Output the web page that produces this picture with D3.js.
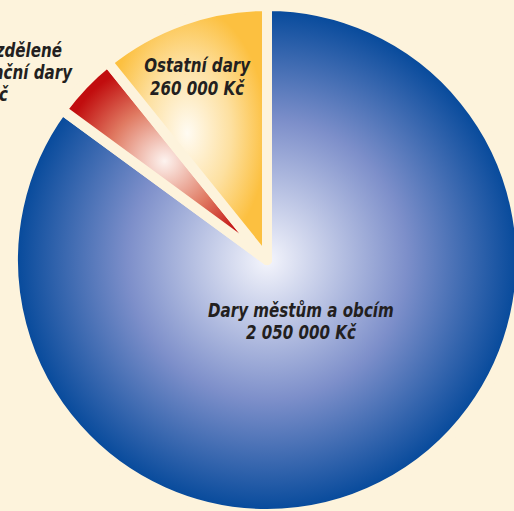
<!DOCTYPE html>
<html>
<head>
<meta charset="utf-8">
<script src="https://cdn.jsdelivr.net/npm/d3@7"></script>
<style>
  html, body { margin: 0; padding: 0; background: #fdf3dc; overflow: hidden; }
  svg { display: block; }
  .lbl { font-family: 'Liberation Sans Narrow', 'DejaVu Sans Condensed', 'DejaVu Sans', sans-serif;
         font-stretch: condensed; font-weight: bold; font-style: italic; font-size: 20px; fill: #231f20; }
</style>
</head>
<body>
<svg id="chart"></svg>
<script>
// Donations, CZK
const categories = ['Dary městům a obcím', 'Nerozdělené finanční dary', 'Ostatní dary']
const labelLines = [['Dary městům a obcím'], ['Nerozdělené', 'finanční dary'], ['Ostatní dary']]
const amounts = [2050000, 100000, 260000]
const amountLabels = ['2 050 000 Kč', '100 000 Kč', '260 000 Kč']

const svgWidth = 514
const svgHeight = 511
const cx = 267
const cy = 260
const radius = 254
const squeeze = 0.84 // narrow the font to look like a condensed face

const colors = [
  ['#f4f5fc', '#7d8fca', '#03489a'],
  ['#fdf3ef', '#e07a62', '#c10d0e'],
  ['#fffbf2', '#fde0a0', '#fcc040']
]

const svg = d3.select('#chart')
  .attr('width', svgWidth)
  .attr('height', svgHeight)

const defs = svg.append('defs')
colors.forEach((c, i) => {
  const g = defs.append('radialGradient').attr('id', 'grad' + i)
  g.append('stop').attr('offset', '0%').attr('stop-color', c[0])
  g.append('stop').attr('offset', '55%').attr('stop-color', c[1])
  g.append('stop').attr('offset', '100%').attr('stop-color', c[2])
})

const pie = d3.pie().sort(null).value(d => d)
const arcs = pie(amounts)

const arc = d3.arc().innerRadius(0).outerRadius(radius)

const g = svg.append('g').attr('transform', `translate(${cx}, ${cy})`)

g.selectAll('path')
  .data(arcs)
  .enter()
  .append('path')
  .attr('d', arc)
  .attr('fill', (d, i) => `url(#grad${i})`)
  .attr('stroke', '#fdf3dc')
  .attr('stroke-width', 10)
  .attr('stroke-linejoin', 'round')

// labels inside the two bigger slices
const labelRadii = [75, null, 198]
const firstLineDy = [-0.5, null, -0.05]
arcs.forEach((d, i) => {
  if (labelRadii[i] == null) return
  const pos = d3.arc().innerRadius(labelRadii[i]).outerRadius(labelRadii[i]).centroid(d)
  const t = g.append('text')
    .attr('class', 'lbl')
    .attr('text-anchor', 'middle')
    .attr('transform', `translate(${pos[0] - (i === 2 ? 4 : 0)}, ${pos[1]}) scale(${squeeze}, 1)`)
  t.append('tspan').attr('x', 0).attr('dy', firstLineDy[i] + 'em').text(labelLines[i][0])
  t.append('tspan').attr('x', 0).attr('dy', '1.13em').text(amountLabels[i])
})

// label of the small slice, outside the pie, running off the left edge
const sideLines = labelLines[1].concat([amountLabels[1]])
const sideEnds = [62, 72, 8]
const side = svg.append('text')
  .attr('class', 'lbl')
  .attr('text-anchor', 'end')
  .attr('transform', `translate(0, 57) scale(${squeeze}, 1)`)
side.selectAll('tspan')
  .data(sideLines)
  .enter()
  .append('tspan')
  .attr('x', (d, i) => sideEnds[i] / squeeze)
  .attr('y', (d, i) => i * 22)
  .text(d => d)
</script>
</body>
</html>
